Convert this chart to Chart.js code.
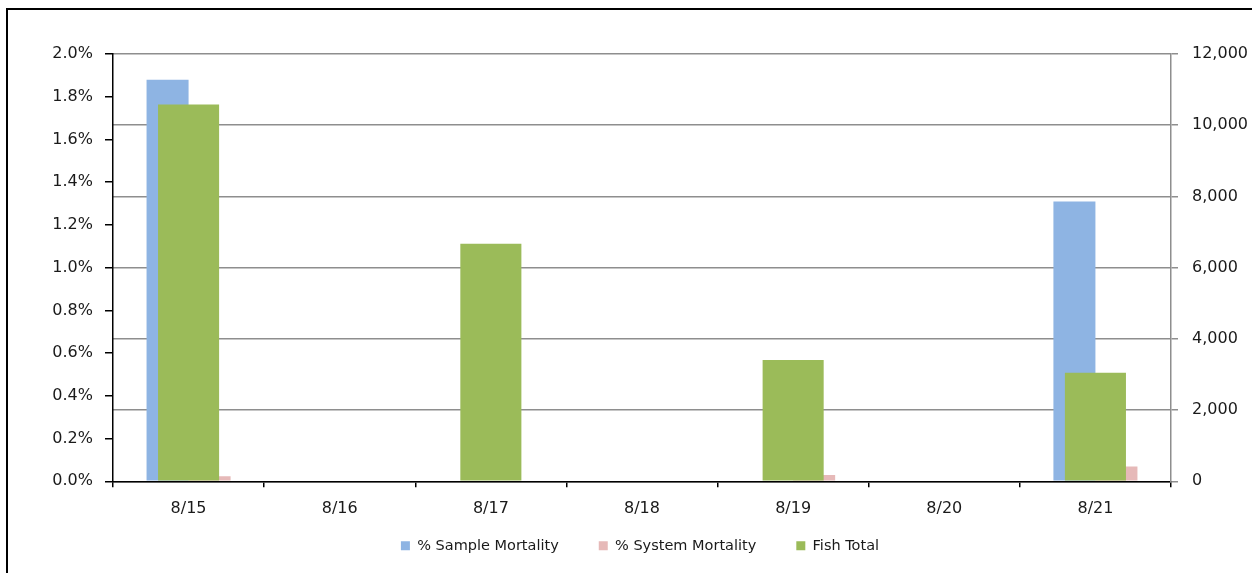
<!DOCTYPE html>
<html>
<head>
<meta charset="utf-8">
<script src="https://cdn.jsdelivr.net/npm/chart.js@4"></script>
<style>
  body { margin: 0; background: #fff; }
  #frame {
    position: absolute;
    left: 6px;
    top: 8px;
    width: 1400px;
    height: 700px;
    border-left: 2px solid #000;
    border-top: 2px solid #000;
  }
  #chart { position: absolute; left: 0; top: 0; }
</style>
</head>
<body>
<div id="frame"></div>
<canvas id="chart" width="1252" height="573"></canvas>
<script>
const days = ["8/15", "8/16", "8/17", "8/18", "8/19", "8/20", "8/21"];
// percent values, left axis
const sampleMortality = [1.88, null, null, null, null, null, 1.31];
const systemMortality = [0.024, null, 0, null, 0.03, null, 0.069];
// fish counts, right axis
const fishTotal = [10580, null, 6670, null, 3410, null, 3050];

const textColor = "#1a1a1a";
const gridColor = "#8e8e8e";

function withCommas(v) {
  return String(v).replace(/\B(?=(\d{3})+(?!\d))/g, ",");
}

// keep the wide item spacing of the legend but pull it up under the axis labels
const legendPlace = {
  id: "legendPlace",
  beforeInit(chart) {
    const fit = chart.legend.fit;
    chart.legend.fit = function () {
      fit.bind(chart.legend)();
      this.height = 42.5;
    };
  },
  afterLayout(chart) {
    const legend = chart.legend;
    legend.top = 498.5;
    // center it under the plot area, not the whole canvas
    legend.left += 14;
    legend.right += 14;
  },
};

const ctx = document.getElementById("chart").getContext("2d");
new Chart(ctx, {
  type: "bar",
  data: {
    labels: days,
    datasets: [
      {
        label: "% Sample Mortality",
        data: sampleMortality,
        backgroundColor: "#8eb4e3",
        yAxisID: "y",
        order: 1,
        categoryPercentage: 0.556,
        barPercentage: 1,
      },
      {
        label: "% System Mortality",
        data: systemMortality,
        backgroundColor: "#e6b9b8",
        yAxisID: "y",
        order: 2,
        categoryPercentage: 0.556,
        barPercentage: 1,
      },
      {
        label: "Fish Total",
        data: fishTotal,
        backgroundColor: "#9bbb59",
        yAxisID: "y1",
        order: 0,
        grouped: false,
        categoryPercentage: 1,
        barPercentage: 0.404,
      },
    ],
  },
  options: {
    responsive: false,
    animation: false,
    devicePixelRatio: 1,
    layout: {
      padding: { top: 54, left: 0, right: 0, bottom: 0 },
    },
    scales: {
      x: {
        grid: {
          drawOnChartArea: false,
          tickLength: 6,
          color: "#000",
          lineWidth: 1.5,
        },
        border: { color: "#000", width: 1.5 },
        ticks: {
          padding: 12,
          maxRotation: 0,
          color: textColor,
          font: { family: "DejaVu Sans", size: 16 },
        },
      },
      y: {
        position: "left",
        min: 0,
        max: 2,
        afterFit: (scale) => {
          scale.width = 113;
        },
        grid: {
          drawOnChartArea: false,
          tickLength: 8,
          color: "#000",
          lineWidth: 1.5,
        },
        border: { color: "#000", width: 1.5 },
        ticks: {
          stepSize: 0.2,
          padding: 12,
          color: textColor,
          font: { family: "DejaVu Sans", size: 16 },
          callback: (v) => v.toFixed(1) + "%",
        },
      },
      y1: {
        position: "right",
        min: 0,
        max: 12000,
        afterFit: (scale) => {
          scale.width = 81;
        },
        grid: {
          color: gridColor,
          lineWidth: 1.5,
          tickLength: 7,
        },
        border: { color: gridColor, width: 1.5 },
        ticks: {
          stepSize: 2000,
          padding: 14,
          color: textColor,
          font: { family: "DejaVu Sans", size: 16 },
          callback: (v) => withCommas(v),
        },
      },
    },
    plugins: {
      legend: {
        position: "bottom",
        labels: {
          boxWidth: 9,
          boxHeight: 9,
          padding: 40,
          color: textColor,
          font: { family: "DejaVu Sans", size: 14.5 },
          sort: (a, b) => a.datasetIndex - b.datasetIndex,
        },
      },
      tooltip: { enabled: false },
    },
  },
  plugins: [legendPlace],
});
</script>
</body>
</html>
